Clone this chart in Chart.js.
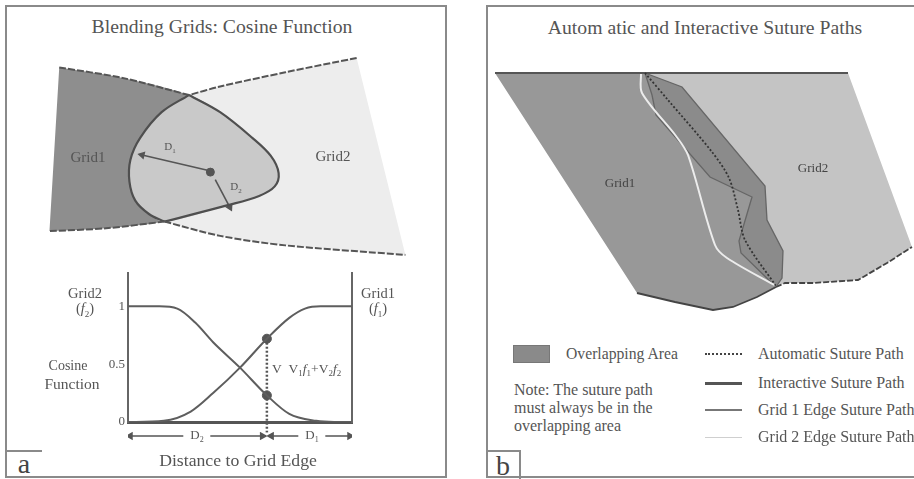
<!DOCTYPE html>
<html>
<head>
<meta charset="utf-8">
<script src="https://cdn.jsdelivr.net/npm/chart.js@4.4.1/dist/chart.umd.min.js"></script>
<style>
  html, body { margin: 0; padding: 0; background: #fff; }
  #page { position: relative; width: 914px; height: 479px; overflow: hidden;
          font-family: "Liberation Serif", "Times New Roman", serif; color: #555; }
  .frame { position: absolute; box-sizing: border-box; border: 0 solid #8a8a8a; }
  canvas { position: absolute; }
  .t { position: absolute; white-space: nowrap; line-height: 1; }
  .c { transform: translate(-50%, -50%); }
  .l { transform: translateY(-50%); }
  .sw { position: absolute; box-sizing: border-box; }
</style>
</head>
<body>
<div id="page">
  <!-- panel frames -->
  <div class="frame" style="left:5px;top:5px;width:442px;height:473px;border-width:2px;"></div>
  <div class="frame" style="left:486px;top:5px;width:440px;height:473px;border-width:2px;"></div>
  <div class="frame" style="left:5px;top:450px;width:37px;height:2px;border-top-width:2px;"></div>
  <div class="frame" style="left:486px;top:450px;width:35px;height:40px;border-top-width:2px;border-right-width:2px;"></div>
  <div class="t c" style="left:24px;top:464px;font-size:28px;color:#444;">a</div>
  <div class="t c" style="left:503px;top:466px;font-size:28px;color:#444;">b</div>

  <!-- titles -->
  <div class="t c" style="left:222px;top:27px;font-size:19.7px;">Blending Grids: Cosine Function</div>
  <div class="t c" style="left:705px;top:28px;font-size:19.7px;">Autom atic and Interactive Suture Paths</div>

  <canvas id="cvBlend" width="450" height="230" style="left:0;top:40px;"></canvas>
  <canvas id="cvCos" width="290" height="190" style="left:80px;top:262px;"></canvas>
  <canvas id="cvSpan" width="240" height="20" style="left:120px;top:426px;"></canvas>
  <canvas id="cvSuture" width="425" height="290" style="left:489px;top:40px;"></canvas>

  <!-- blending diagram labels -->
  <div class="t c" style="left:88px;top:157px;font-size:15px;">Grid1</div>
  <div class="t c" style="left:333px;top:156px;font-size:15px;">Grid2</div>
  <div class="t c" style="left:170px;top:148px;font-size:11px;">D<sub style="font-size:7px;">1</sub></div>
  <div class="t c" style="left:236px;top:188px;font-size:11px;">D<sub style="font-size:7px;">2</sub></div>

  <!-- cosine plot labels -->
  <div class="t c" style="left:85px;top:293px;font-size:14.5px;">Grid2</div>
  <div class="t c" style="left:85px;top:310px;font-size:14.5px;">(<i>f</i><sub style="font-size:9px;">2</sub>)</div>
  <div class="t c" style="left:378px;top:293px;font-size:14.5px;">Grid1</div>
  <div class="t c" style="left:378px;top:310px;font-size:14.5px;">(<i>f</i><sub style="font-size:9px;">1</sub>)</div>
  <div class="t c" style="left:68px;top:366px;font-size:14px;">Cosine</div>
  <div class="t c" style="left:72px;top:384px;font-size:15.5px;">Function</div>
  <div class="t l" style="left:272px;top:370px;font-size:13.5px;">V&nbsp;&nbsp;V<sub style="font-size:9px;">1</sub><i>f</i><sub style="font-size:9px;">1</sub>+V<sub style="font-size:9px;">2</sub><i>f</i><sub style="font-size:9px;">2</sub></div>
  <div class="t c" style="left:197px;top:436px;font-size:13px;background:#fff;padding:0 7px;">D<sub style="font-size:8px;">2</sub></div>
  <div class="t c" style="left:312px;top:436px;font-size:13px;background:#fff;padding:0 7px;">D<sub style="font-size:8px;">1</sub></div>
  <div class="t c" style="left:238px;top:461px;font-size:17.7px;">Distance to Grid Edge</div>

  <!-- suture diagram labels -->
  <div class="t c" style="left:620px;top:182px;font-size:13px;color:#444;">Grid1</div>
  <div class="t c" style="left:813px;top:167px;font-size:13px;color:#444;">Grid2</div>

  <!-- suture legend -->
  <div class="sw" style="left:513px;top:345px;width:37px;height:18px;background:#8a8a8a;border:1px solid #777;"></div>
  <div class="t l" style="left:566px;top:354px;font-size:15.7px;">Overlapping Area</div>
  <div class="t" style="left:514px;top:381px;font-size:16px;line-height:18px;">Note: The suture path<br>must always be in the<br>overlapping area</div>

  <div class="sw" style="left:705px;top:353px;width:37px;border-top:2px dotted #444;"></div>
  <div class="sw" style="left:705px;top:382px;width:37px;border-top:3px solid #555;"></div>
  <div class="sw" style="left:705px;top:409px;width:37px;border-top:2.5px solid #777;"></div>
  <div class="sw" style="left:705px;top:437px;width:37px;border-top:1.5px solid #cfcfcf;"></div>
  <div class="t l" style="left:758px;top:354px;font-size:16px;">Automatic Suture Path</div>
  <div class="t l" style="left:758px;top:383px;font-size:16px;">Interactive Suture Path</div>
  <div class="t l" style="left:758px;top:410px;font-size:16px;">Grid 1 Edge Suture Path</div>
  <div class="t l" style="left:758px;top:437px;font-size:16px;">Grid 2 Edge Suture Path</div>
</div>

<script>
// ---------- Blending grids: outline curves (diagram units) ----------
const grid1TopEdge    = [[55,63],[120,74],[188,92]];
const grid1RightArc   = [[188,92],[220,110],[253,137],[272,156],[280,174],[276,188],[260,198],[227,208],[163,225]];
const grid1BottomEdge = [[163,225],[103,232],[45,235]];
const grid2TopEdge    = [[360,53],[287,68],[220,83],[188,92]];
const grid2LeftArc    = [[188,92],[160,110],[138,137],[128,160],[127,183],[133,203],[147,217],[163,225]];
const grid2BottomEdge = [[163,225],[220,240],[287,250],[410,260]];
const samplePoint     = [[210,173]];
const distArrow1      = [[207,171],[140,155]];
const distArrow2      = [[215,181],[230,210]];

// ---------- Cosine blending functions ----------
const distance   = [0, 1.4, 2.2, 3.0, 3.8, 5.0, 6.2, 7.2, 8.4, 9.2, 10];
const weightF2   = [1, 1, 0.98, 0.86, 0.69, 0.47, 0.23, 0.07, 0.01, 0, 0];
const distanceF1 = [0, 1.6, 2.8, 3.8, 5.0, 6.2, 7.2, 7.9, 8.6, 10];
const weightF1   = [0, 0.01, 0.09, 0.25, 0.47, 0.72, 0.9, 0.98, 1, 1];
const sampleDistance = 6.2;
const sampleWeights  = [0.72, 0.23];
const yTicks = [0, 0.5, 1];
const spanD2 = [0.1, 6.0];
const spanD1 = [6.4, 9.9];

// ---------- Suture paths diagram (diagram units) ----------
const sutureTopEdge   = [[495,73],[848,73]];
const grid1Bottom     = [[637,293],[675,302],[713,310],[733,307],[757,297],[776,287]];
const grid2Bottom     = [[776,287],[785,283],[813,283],[858,280],[887,263],[912,247]];
const overlapRight    = [[645,73],[682,87],[765,186],[767,220],[783,251],[782,278],[776,287]];
const overlapLeft     = [[645,73],[652,95],[656,115],[710,177],[752,197],[739,241],[741,253],[776,287]];
const grid2EdgePath   = [[641,73],[642,93],[676,136],[688,155],[715,245],[727,258],[776,286]];
const automaticPath   = [[645,73],[668,100],[712,152],[729,178],[738,210],[745,240],[776,286]];
const grid1OuterLeft  = [495,73];
const grid2OuterRight = [[848,73],[912,247]];

const pts = a => a.map(p => ({x: p[0], y: p[1]}));
const rev = a => a.slice().reverse();

const baseOpts = (xmin, xmax, ymin, ymax) => ({
  responsive: false, animation: false, devicePixelRatio: 1,
  layout: { padding: 0 },
  plugins: { legend: { display: false }, tooltip: { enabled: false } },
  scales: {
    x: { type: 'linear', min: xmin, max: xmax, display: false },
    y: { type: 'linear', min: ymin, max: ymax, reverse: true, display: false }
  },
  elements: { point: { radius: 0 } }
});

const area = (data, color, order, tension) => ({
  type: 'line', data: pts(data), fill: 'shape', backgroundColor: color,
  borderWidth: 0, borderColor: 'rgba(0,0,0,0)', pointRadius: 0, tension: tension || 0, order: order
});
const stroke = (data, color, width, dash, tension, order) => ({
  type: 'line', data: pts(data), fill: false, borderColor: color, borderWidth: width,
  borderDash: dash || [], pointRadius: 0, tension: tension || 0, order: order || 1
});
const arrowHeads = { pointStyle: 'triangle', pointBackgroundColor: '#555', pointBorderColor: '#555' };

// Blending grids diagram
const grid1Shape = [...grid1TopEdge, ...grid1RightArc.slice(1), ...grid1BottomEdge.slice(1)];
const grid2Shape = [...grid2TopEdge, ...grid2LeftArc.slice(1), ...grid2BottomEdge.slice(1)];
const lensShape  = [...grid2LeftArc, ...rev(grid1RightArc).slice(1, -1)];

new Chart(document.getElementById('cvBlend'), {
  type: 'scatter',
  data: { datasets: [
    area(grid2Shape, '#ededed', 10, 0.35),
    area(grid1Shape, '#8e8e8e', 9, 0.35),
    area(lensShape, '#c9c9c9', 8, 0.35),
    stroke(grid1TopEdge, '#555', 2, [7, 2], 0.3),
    stroke(grid2TopEdge, '#555', 2, [7, 2], 0.3),
    stroke(grid1BottomEdge, '#555', 2, [7, 2], 0.3),
    stroke(grid2BottomEdge, '#555', 2, [7, 2], 0.3),
    stroke(grid1RightArc, '#4f4f4f', 2.2, [], 0.35),
    stroke(grid2LeftArc, '#4f4f4f', 2.2, [], 0.35),
    { type: 'line', data: pts(distArrow1), borderColor: '#555', borderWidth: 1.6,
      pointRadius: [0, 3.2], pointRotation: [0, -77], order: 1, ...arrowHeads },
    { type: 'line', data: pts(distArrow2), borderColor: '#555', borderWidth: 1.6,
      pointRadius: [0, 3.2], pointRotation: [0, 153], order: 1, ...arrowHeads },
    { type: 'scatter', data: pts(samplePoint), pointRadius: 4,
      pointBackgroundColor: '#555', pointBorderColor: '#555', order: 0 }
  ]},
  options: baseOpts(0, 450, 40, 270)
});

// Cosine function plot
const tickFont = { family: '"Liberation Serif", "Times New Roman", serif', size: 13 };
new Chart(document.getElementById('cvCos'), {
  type: 'line',
  data: { datasets: [
    { data: distanceF1.map((d, i) => ({x: d, y: weightF1[i]})), borderColor: '#5e5e5e', borderWidth: 2,
      pointRadius: 0, cubicInterpolationMode: 'monotone' },
    { data: distance.map((d, i) => ({x: d, y: weightF2[i]})), borderColor: '#5e5e5e', borderWidth: 2,
      pointRadius: 0, cubicInterpolationMode: 'monotone' },
    { data: [{x: sampleDistance, y: sampleWeights[0]}, {x: sampleDistance, y: -0.09}],
      borderColor: '#555', borderWidth: 2.5, borderDash: [2, 2], pointRadius: 0, clip: false },
    { data: sampleWeights.map(w => ({x: sampleDistance, y: w})), showLine: false,
      pointRadius: 4.5, pointBackgroundColor: '#555', pointBorderColor: '#555' }
  ]},
  options: {
    responsive: false, animation: false, devicePixelRatio: 1,
    layout: { padding: { top: 8, right: 18, bottom: 30, left: 0 } },
    plugins: { legend: { display: false }, tooltip: { enabled: false } },
    scales: {
      x: { type: 'linear', min: 0, max: 10, grid: { display: false, drawTicks: false },
           ticks: { display: false }, border: { color: '#555', width: 3 },
           afterFit: s => { s.height = 0; } },
      y: { type: 'linear', min: 0, max: 1.29, position: 'left',
           grid: { display: false, drawTicks: false }, border: { color: '#666', width: 2 },
           afterBuildTicks: s => { s.ticks = yTicks.map(v => ({ value: v })); },
           ticks: { font: tickFont, color: '#555', padding: 3, callback: v => String(v) },
           afterFit: s => { s.width = 48; } },
      yR: { type: 'linear', min: 0, max: 1.29, position: 'right',
            grid: { display: false, drawTicks: false }, ticks: { display: false },
            border: { color: '#666', width: 2 }, afterFit: s => { s.width = 0; } }
    }
  }
});

// Distance spans under the plot, on the same distance scale
new Chart(document.getElementById('cvSpan'), {
  type: 'line',
  data: { datasets: [
    { data: spanD2.map(d => ({x: d, y: 0})), borderColor: '#555', borderWidth: 1.5,
      pointRadius: 3.5, pointRotation: [-90, 90], ...arrowHeads },
    { data: spanD1.map(d => ({x: d, y: 0})), borderColor: '#555', borderWidth: 1.5,
      pointRadius: 3.5, pointRotation: [-90, 90], ...arrowHeads }
  ]},
  options: {
    responsive: false, animation: false, devicePixelRatio: 1,
    layout: { padding: { left: 8, right: 8, top: 0, bottom: 0 } },
    plugins: { legend: { display: false }, tooltip: { enabled: false } },
    scales: {
      x: { type: 'linear', min: 0, max: 10, display: false },
      y: { type: 'linear', min: -1, max: 1, display: false }
    }
  }
});

// Suture paths diagram
const grid1Region   = [grid1OuterLeft, ...overlapRight, ...rev(grid1Bottom).slice(1)];
const grid2Region   = [[645,73], ...grid2OuterRight, ...rev(grid2Bottom).slice(1), ...rev(overlapRight).slice(1, -1)];
const overlapRegion = [...overlapLeft, ...rev(overlapRight).slice(1, -1)];

new Chart(document.getElementById('cvSuture'), {
  type: 'scatter',
  data: { datasets: [
    area(grid2Region, '#c4c4c4', 10),
    area(grid1Region, '#989898', 9),
    area(overlapRegion, '#8b8b8b', 8),
    stroke(overlapLeft, '#666', 1.3, [], 0, 3),
    stroke(overlapRight, '#666', 1.3, [], 0, 3),
    stroke(grid2EdgePath, '#ececec', 2, [], 0.3, 2),
    stroke(automaticPath, '#333', 1.8, [2, 2], 0.3, 1),
    stroke(sutureTopEdge, '#555', 2, [], 0, 1),
    stroke(grid1Bottom, '#444', 1.8, [], 0, 1),
    stroke(grid2Bottom, '#444', 1.8, [6, 2], 0, 1)
  ]},
  options: baseOpts(489, 914, 40, 330)
});
</script>
</body>
</html>
